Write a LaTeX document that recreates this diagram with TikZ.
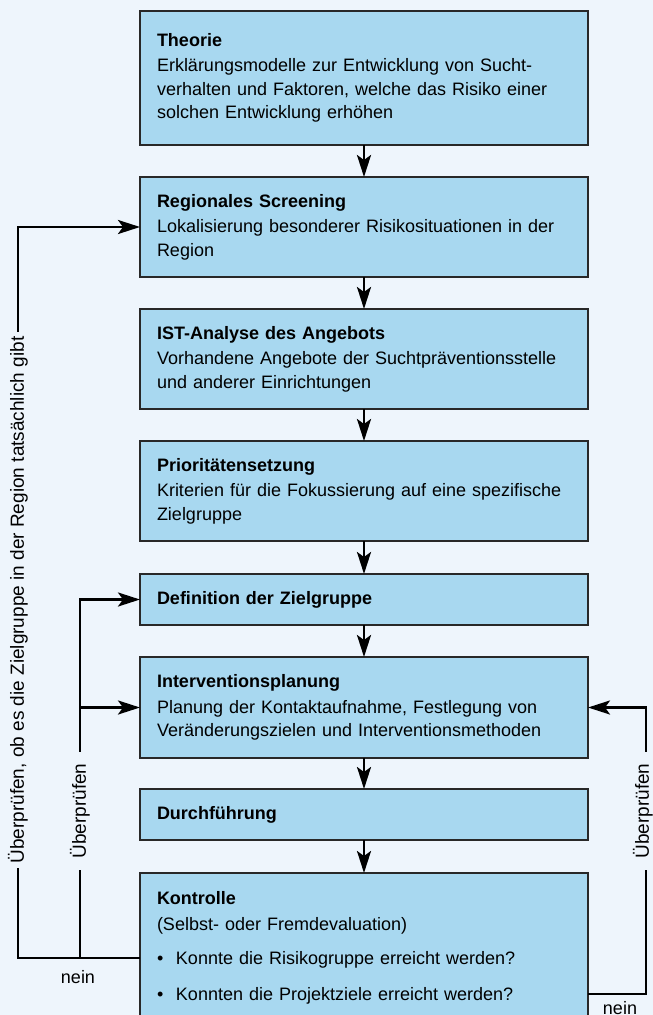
\documentclass[tikz,border=0pt]{standalone}
\usepackage{fontspec}
\setmainfont{Liberation Sans}
\usetikzlibrary{positioning, calc, arrows.meta}

\definecolor{bgblue}{RGB}{238,245,252}
\definecolor{boxblue}{RGB}{168,216,240}
\definecolor{boxline}{RGB}{40,40,40}

\newcommand{\boxfont}{\fontsize{18}{23.5}\selectfont}
\newcommand{\sidefont}{\fontsize{19}{23}\selectfont}
\newcommand{\itembullet}{\makebox[19pt][l]{\textbullet}}

\tikzset{
  stage/.style={draw=boxline, line width=1.4pt, fill=boxblue, text width=414pt,
    inner xsep=17pt, inner ysep=0pt, outer sep=0pt, align=left, font=\boxfont},
  flow/.style={line width=2.6pt, -{Stealth[length=22pt, width=14pt, inset=5pt]}},
  sidelabel/.style={rotate=90, fill=bgblue, font=\sidefont, inner ysep=1pt},
  nolabel/.style={anchor=base, font=\boxfont, inner sep=0pt},
}

\begin{document}
\begin{tikzpicture}[x=1pt, y=-1pt]

  % Page and background
  \useasboundingbox (0,0) rectangle (653,1015);
  \clip (0,0) rectangle (653,1015);
  \fill[bgblue] (0,0) rectangle (653,1015);

  % Stages of the planning process
  \node[stage, minimum height=134pt, anchor=north west] (theorie) at (140,11)
    {\textbf{Theorie}\\[2pt]
     Erklärungsmodelle zur Entwicklung von Sucht-\\
     verhalten und Faktoren, welche das Risiko einer\\
     solchen Entwicklung erhöhen};
  \node[stage, minimum height=100pt, below=32pt of theorie] (screening)
    {\textbf{Regionales Screening}\\[2pt]
     Lokalisierung besonderer Risikosituationen in der\\
     Region};
  \node[stage, minimum height=100pt, below=32pt of screening] (ist)
    {\textbf{IST-Analyse des Angebots}\\[2pt]
     Vorhandene Angebote der Suchtpräventionsstelle\\
     und anderer Einrichtungen};
  \node[stage, minimum height=100pt, below=32pt of ist] (prio)
    {\textbf{Prioritätensetzung}\\[2pt]
     Kriterien für die Fokussierung auf eine spezifische\\
     Zielgruppe};
  \node[stage, minimum height=51pt, below=33pt of prio] (def)
    {\textbf{Definition der Zielgruppe}};
  \node[stage, minimum height=101pt, below=32pt of def] (interv)
    {\textbf{Interventionsplanung}\\[2pt]
     Planung der Kontaktaufnahme, Festlegung von\\
     Veränderungszielen und Interventionsmethoden};
  \node[stage, minimum height=51pt, below=31pt of interv] (durch)
    {\textbf{Durchführung}};
  \node[stage, inner ysep=18pt, below=33pt of durch] (kontr)
    {\textbf{Kontrolle}\\[3pt]
     (Selbst- oder Fremdevaluation)\\[10pt]
     \itembullet Konnte die Risikogruppe erreicht werden?\\[13pt]
     \itembullet Konnten die Projektziele erreicht werden?\\[4pt]};

  % Main flow
  \foreach \a/\b in {theorie/screening, screening/ist, ist/prio, prio/def,
                     def/interv, interv/durch, durch/kontr}
    \draw[flow] (\a) -- (\b);

  % Feedback loops
  \coordinate (outer) at (18,0);
  \coordinate (inner) at (80,0);
  \coordinate (rside) at (646,0);
  \coordinate (kl) at ($(kontr.north west)+(0,-85pt)$);
  \coordinate (kr) at ($(kontr.north east)+(0,-121pt)$);

  \draw[flow] (kl) -| (outer |- screening.west) -- (screening.west);
  \draw[flow] (kl -| inner) |- (def.west);
  \draw[flow] (interv.west -| inner) -- (interv.west);
  \draw[flow] (kr) -| (rside |- interv.east) -- (interv.east);

  % Labels on the loops
  \node[sidelabel, inner xsep=4pt] (checkreg) at (18,600)
    {Überprüfen, ob es die Zielgruppe in der Region tatsächlich gibt};
  \node[sidelabel, inner xsep=11pt] (checkl) at (80,811) {Überprüfen};
  \node[sidelabel, inner xsep=11pt] (checkr) at (643,811) {Überprüfen};
  \node[nolabel] (neinl) at (78,983) {nein};
  \node[nolabel] (neinr) at (620,1014) {nein};

\end{tikzpicture}
\end{document}
